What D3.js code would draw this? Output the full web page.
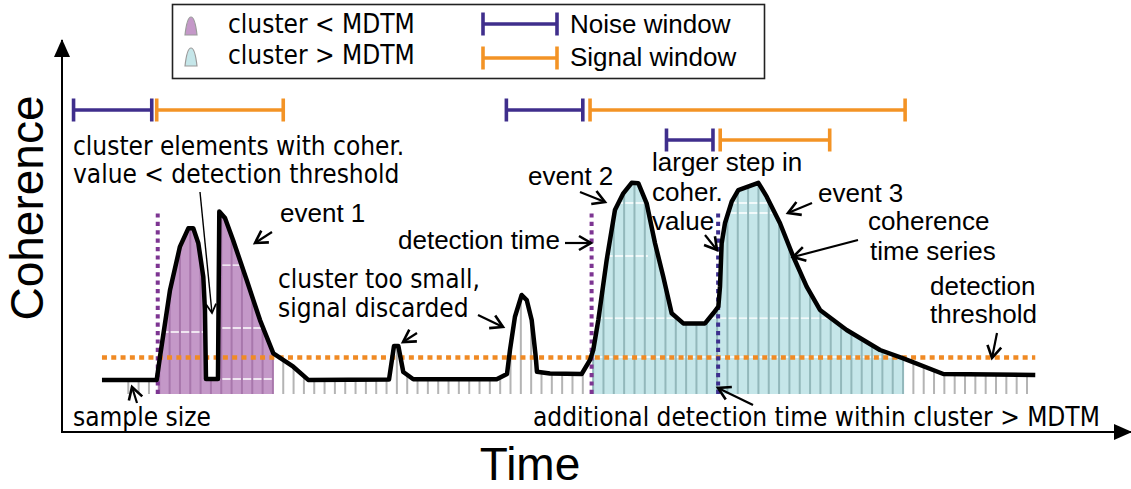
<html>
  <meta charset="utf-8" />
  <script src="https://d3js.org/d3.v7.min.js"></script>
  <style>
    body { margin: 0; background: #fff; }
    .cond { font-family: "DejaVu Sans Condensed", "DejaVu Sans", sans-serif; font-stretch: condensed; font-size: 26px; }
    .arial { font-family: "Liberation Sans", Arial, sans-serif; font-size: 26px; }
    .big { font-family: "Liberation Sans", Arial, sans-serif; font-size: 46px; }
  </style>
  <body>
    <svg width="1131" height="489" id="fig"></svg>
  </body>

  <script>
    // coherence time series (hand traced vertices), time in sample units
    const curveTime = [-2.55, 2.75, 3.07, 4.04, 5.0, 5.81, 6.29, 6.78, 7.26, 7.42, 7.52, 8.68, 8.81, 9.36,
      10.14, 11.46, 12.75, 14.04, 15.97, 17.42, 25.24, 25.72, 26.14, 26.62, 27.59, 35.66, 36.66,
      36.95, 37.43, 38.08, 38.57, 39.05, 39.44, 39.56, 40.82, 43.89, 44.7, 45.01, 45.5, 46.31,
      47.11, 47.92, 48.73, 49.37, 50.18, 50.99, 51.79, 52.6, 53.73, 55.83, 56.63, 57.12, 57.28,
      57.44, 57.76, 58.41, 59.05, 60.99, 61.8, 63.09, 64.38, 65.67, 66.96, 69.54, 72.77, 75.02,
      78.9, 87.8];
    const curveCoherence = [0.064, 0.064, 0.17, 0.473, 0.67, 0.753, 0.753, 0.685, 0.533, 0.382, 0.068,
      0.068, 0.829, 0.8, 0.7, 0.518, 0.336, 0.185, 0.124, 0.064, 0.066, 0.218, 0.218, 0.1, 0.067,
      0.067, 0.091, 0.2, 0.351, 0.45, 0.427, 0.336, 0.17, 0.101, 0.093, 0.091, 0.155, 0.2, 0.336,
      0.609, 0.836, 0.912, 0.96, 0.958, 0.867, 0.685, 0.533, 0.367, 0.321, 0.321, 0.367, 0.397,
      0.488, 0.685, 0.776, 0.874, 0.927, 0.96, 0.897, 0.776, 0.624, 0.488, 0.382, 0.291, 0.2,
      0.162, 0.091, 0.086];

    const sampleTimes = d3.range(0, 88);
    const threshold = 0.166;

    // clusters
    const clusterStart = [2.85, 45.0];
    const clusterEnd = [14.0, 75.1];
    const clusterType = ["small", "large"]; // < MDTM, > MDTM

    // detection times
    const detectionTimes = [2.85, 44.85, 57.1];
    const detectionType = ["first", "first", "additional"];

    // noise / signal windows
    const noiseStart = [-5.3, 36.6, 52.1];
    const noiseEnd = [2.27, 44.0, 56.6];
    const signalStart = [2.75, 44.7, 57.3];
    const signalEnd = [15.0, 75.2, 67.9];
    const windowRow = [0, 0, 1];

    // white levels showing through the cluster fills
    const gridLevel = [0.282, 0.586, 0.3, 0.068, 0.868, 0.868, 0.823, 0.627, 0.345, 0.168];
    const gridStart = [3.5, 8.8, 8.8, 8.8, 46.8, 58.4, 58.0, 46.4, 45.0, 45.0];
    const gridEnd = [7.3, 10.8, 13.0, 13.9, 50.0, 62.9, 62.9, 50.3, 75.1, 75.1];

    const colors = {
      small: "#c498c8", smallStem: "#a877ac",
      large: "#c5e6e9", largeStem: "#93b8bb",
      stem: "#b4b4b4", noise: "#3f2e8c", signal: "#f39325",
      threshold: "#f08a24", first: "#7d3592", additional: "#3d2e8e"
    };

    const svg = d3.select("#fig");
    const xScale = d3.scaleLinear().domain([0, 87]).range([128.3, 1027]);
    const yScale = d3.scaleLinear().domain([0, 1]).range([394, 174]);
    const rowY = [110, 140];

    const defs = svg.append("defs");
    defs.append("marker").attr("id", "chev").attr("markerUnits", "userSpaceOnUse")
      .attr("markerWidth", 18).attr("markerHeight", 18).attr("viewBox", "0 0 18 18")
      .attr("refX", 15).attr("refY", 9).attr("orient", "auto")
      .append("path").attr("d", "M3,2 L15,9 L3,16").attr("fill", "none")
      .attr("stroke", "#000").attr("stroke-width", 2.6);
    defs.append("marker").attr("id", "chevSmall").attr("markerUnits", "userSpaceOnUse")
      .attr("markerWidth", 14).attr("markerHeight", 14).attr("viewBox", "0 0 14 14")
      .attr("refX", 12).attr("refY", 7).attr("orient", "auto")
      .append("path").attr("d", "M3,2 L12,7 L3,12").attr("fill", "none")
      .attr("stroke", "#000").attr("stroke-width", 1.8);
    defs.append("marker").attr("id", "axisHead").attr("markerUnits", "userSpaceOnUse")
      .attr("markerWidth", 18).attr("markerHeight", 16).attr("viewBox", "0 0 18 16")
      .attr("refX", 17).attr("refY", 8).attr("orient", "auto")
      .append("path").attr("d", "M0,0 L18,8 L0,16 Z").attr("fill", "#000");

    const curvePts = curveTime.map((t, i) => [t, curveCoherence[i]]);
    const line = d3.line().x((d) => xScale(d[0])).y((d) => yScale(d[1]));
    const area = d3.area().x((d) => xScale(d[0])).y0(yScale(0)).y1((d) => yScale(d[1]));

    defs.append("clipPath").attr("id", "under").append("path").attr("d", area(curvePts));
    clusterStart.forEach((s, i) => {
      defs.append("clipPath").attr("id", "cl" + i).append("rect")
        .attr("x", xScale(s)).attr("y", 0)
        .attr("width", xScale(clusterEnd[i]) - xScale(s)).attr("height", 489);
    });

    // axes
    svg.append("line").attr("x1", 62).attr("y1", 432).attr("x2", 62).attr("y2", 40)
      .attr("stroke", "#000").attr("stroke-width", 2).attr("marker-end", "url(#axisHead)");
    svg.append("line").attr("x1", 61).attr("y1", 432).attr("x2", 1131).attr("y2", 432)
      .attr("stroke", "#000").attr("stroke-width", 2).attr("marker-end", "url(#axisHead)");
    svg.append("text").attr("class", "big").attr("transform", "translate(43,208) rotate(-90)")
      .attr("text-anchor", "middle").text("Coherence");
    svg.append("text").attr("class", "big").attr("x", 530).attr("y", 480)
      .attr("text-anchor", "middle").text("Time");

    // cluster fills
    const under = svg.append("g").attr("clip-path", "url(#under)");
    clusterStart.forEach((s, i) => {
      const g = under.append("g").attr("clip-path", "url(#cl" + i + ")");
      g.append("rect").attr("x", 0).attr("y", 0).attr("width", 1131).attr("height", 489)
        .attr("fill", colors[clusterType[i]]);
      gridLevel.forEach((c, j) => {
        g.append("line").attr("x1", xScale(gridStart[j])).attr("x2", xScale(gridEnd[j]))
          .attr("y1", yScale(c)).attr("y2", yScale(c))
          .attr("stroke", "#fff").attr("stroke-width", 1.4);
      });
    });

    // stems
    function stemColor(t) {
      for (let i = 0; i < clusterStart.length; i++) {
        if (t >= clusterStart[i] && t <= clusterEnd[i] + 0.05) return colors[clusterType[i] + "Stem"];
      }
      return colors.stem;
    }
    under.selectAll(".stem").data(sampleTimes).enter().append("line")
      .attr("class", "stem")
      .attr("x1", (d) => xScale(d)).attr("x2", (d) => xScale(d))
      .attr("y1", yScale(0)).attr("y2", yScale(1.2))
      .attr("stroke", (d) => stemColor(d)).attr("stroke-width", 2);

    // detection threshold
    svg.append("line")
      .attr("x1", xScale(curveTime[0])).attr("x2", xScale(curveTime[curveTime.length - 1]))
      .attr("y1", yScale(threshold)).attr("y2", yScale(threshold))
      .attr("stroke", colors.threshold).attr("stroke-width", 4.5)
      .attr("stroke-dasharray", "5 4.3");

    // detection times
    svg.selectAll(".det").data(detectionTimes).enter().append("line")
      .attr("class", "det")
      .attr("x1", (d) => xScale(d)).attr("x2", (d) => xScale(d))
      .attr("y1", yScale(0)).attr("y2", yScale(0.833))
      .attr("stroke", (d, i) => colors[detectionType[i]]).attr("stroke-width", 4)
      .attr("stroke-dasharray", "4.2 4.2");

    // time series
    svg.append("path").attr("d", line(curvePts)).attr("fill", "none")
      .attr("stroke", "#000").attr("stroke-width", 4.5).attr("stroke-linejoin", "round");

    // windows
    function bracket(x0, x1, y, col) {
      const g = svg.append("g").attr("stroke", col).attr("stroke-width", 3.6);
      g.append("line").attr("x1", x0).attr("x2", x1).attr("y1", y).attr("y2", y);
      g.append("line").attr("x1", x0).attr("x2", x0).attr("y1", y - 11.5).attr("y2", y + 11.5);
      g.append("line").attr("x1", x1).attr("x2", x1).attr("y1", y - 11.5).attr("y2", y + 11.5);
    }
    noiseStart.forEach((s, i) => {
      bracket(xScale(s), xScale(noiseEnd[i]), rowY[windowRow[i]], colors.noise);
      bracket(xScale(signalStart[i]), xScale(signalEnd[i]), rowY[windowRow[i]], colors.signal);
    });

    // legend
    svg.append("rect").attr("x", 172.5).attr("y", 4.5).attr("width", 592).attr("height", 74)
      .attr("fill", "#fff").attr("stroke", "#222").attr("stroke-width", 1.6);
    const icon = "M0,19 C1,10 3,1 6,1 C9,1 11,10 12,19 Z";
    [["small", 16], ["large", 47]].forEach(([k, y]) => {
      svg.append("path").attr("d", icon).attr("transform", `translate(185,${y})`)
        .attr("fill", colors[k]).attr("stroke", "#9a9a9a").attr("stroke-width", 1.2);
    });
    svg.append("text").attr("class", "cond").attr("x", 228).attr("y", 33).text("cluster < MDTM");
    svg.append("text").attr("class", "cond").attr("x", 228).attr("y", 64).text("cluster > MDTM");
    bracket(483, 557, 24, colors.noise);
    bracket(483, 557, 58, colors.signal);
    svg.append("text").attr("class", "arial").attr("x", 570).attr("y", 33).text("Noise window");
    svg.append("text").attr("class", "arial").attr("x", 570).attr("y", 66).text("Signal window");

    // annotations
    const notes = [
      ["cond", 73, 155, "cluster elements with coher."],
      ["cond", 73, 183, "value < detection threshold"],
      ["cond", 278, 288, "cluster too small,"],
      ["cond", 278, 317, "signal discarded"],
      ["cond", 73, 426, "sample size"],
      ["cond", 533, 426, "additional detection time within cluster > MDTM"],
      ["arial", 280, 222, "event 1"],
      ["arial", 398, 249, "detection time"],
      ["arial", 528, 185, "event 2"],
      ["arial", 652, 171, "larger step in"],
      ["arial", 652, 201, "coher."],
      ["arial", 652, 230, "value"],
      ["arial", 818, 202, "event 3"],
      ["arial", 868, 230, "coherence"],
      ["arial", 870, 260, "time series"],
      ["arial", 930, 295, "detection"],
      ["arial", 930, 323, "threshold"]
    ];
    notes.forEach(([c, x, y, t]) => {
      svg.append("text").attr("class", c).attr("x", x).attr("y", y).text(t);
    });

    const arrows = [
      [272, 232, 255, 243], [565, 243, 591, 243], [417, 333, 403, 342], [478, 315, 503, 327],
      [137, 403, 132, 387], [580, 192, 605, 202], [705, 235, 717, 250], [812, 203, 788, 213],
      [858, 240, 793, 257], [997, 333, 992, 358], [753, 405, 718, 388]
    ];
    arrows.forEach(([x1, y1, x2, y2]) => {
      svg.append("line").attr("x1", x1).attr("y1", y1).attr("x2", x2).attr("y2", y2)
        .attr("stroke", "#000").attr("stroke-width", 2.2).attr("marker-end", "url(#chev)");
    });
    svg.append("line").attr("x1", 200).attr("y1", 192).attr("x2", 212).attr("y2", 313)
      .attr("stroke", "#000").attr("stroke-width", 1.4).attr("marker-end", "url(#chevSmall)");
  </script>
</html>
